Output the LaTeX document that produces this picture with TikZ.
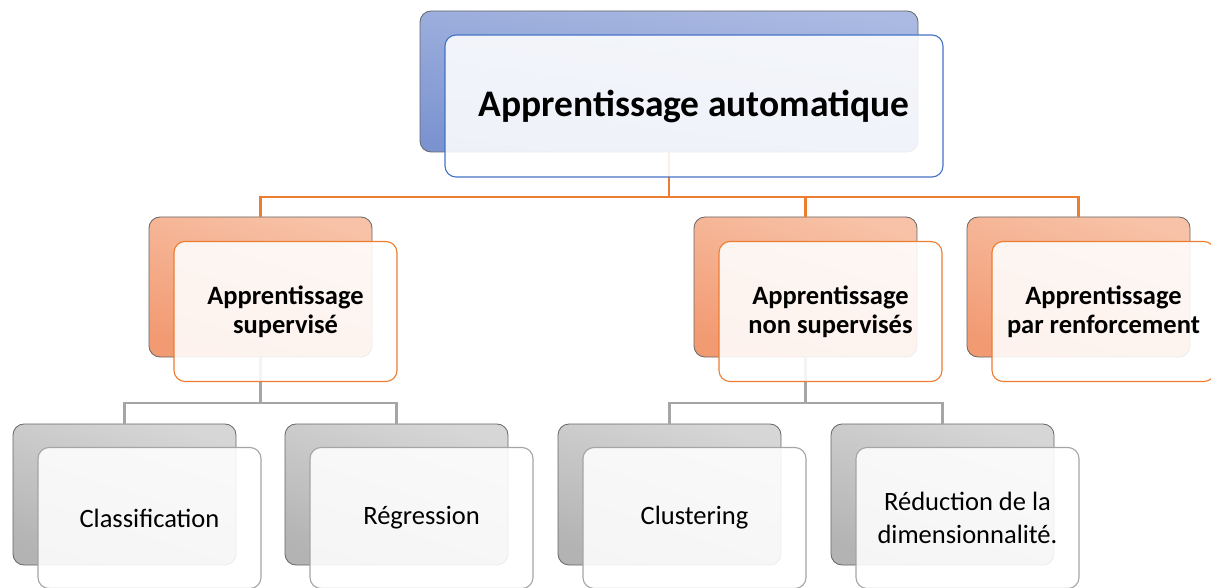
\documentclass[tikz,border=0pt]{standalone}
\usepackage{fontspec}
\setmainfont{Carlito}
\definecolor{blueTop}{HTML}{ABBAE2}
\definecolor{blueBot}{HTML}{7B93D0}
\definecolor{blueEdge}{HTML}{4472C4}
\definecolor{orTop}{HTML}{F7C2A7}
\definecolor{orBot}{HTML}{F29A72}
\definecolor{orEdge}{HTML}{ED7D31}
\definecolor{grTop}{HTML}{D6D6D6}
\definecolor{grBot}{HTML}{B3B3B3}
\definecolor{grEdge}{HTML}{A5A5A5}
\definecolor{backEdge}{HTML}{666666}
\tikzset{
  backbox/.style={draw=backEdge, line width=0.8pt, rounded corners=11pt,
    inner sep=0pt, minimum width=223pt, minimum height=140pt},
  frontbox/.style={line width=1.1pt, rounded corners=11pt, fill=white,
    fill opacity=0.88, text opacity=1, inner sep=0pt,
    minimum width=223pt, minimum height=140pt, align=center, text=black},
  bluebk/.style={backbox, top color=blueTop, bottom color=blueBot, shading angle=-8,
    minimum width=498pt, minimum height=141pt},
  bluefr/.style={frontbox, draw=blueEdge, minimum width=498pt, minimum height=142pt,
    font=\fontsize{37.5}{44}\selectfont\bfseries},
  orbk/.style={backbox, top color=orTop, bottom color=orBot, shading angle=-18},
  orfr/.style={frontbox, draw=orEdge, font=\fontsize{26.5}{29}\selectfont\bfseries},
  grbk/.style={backbox, top color=grTop, bottom color=grBot, shading angle=-18, minimum height=141pt},
  grfr/.style={frontbox, draw=grEdge, minimum height=141pt, font=\fontsize{26.5}{33}\selectfont},
  oline/.style={draw=orEdge, line width=2.2pt},
  gline/.style={draw=grEdge, line width=2.5pt},
}
\begin{document}
\begin{tikzpicture}[x=1pt, y=-1pt]
\useasboundingbox (0,0) rectangle (1211,588);

% bus levels of the two connector trees
\coordinate (busA) at (0,197);
\coordinate (busB) at (0,403);

% back (shaded) boxes
\node[bluebk] (topB) at (669,81.5) {};
\node[orbk] (supB) at (260.5,287) {};
\node[orbk] (nsB)  at (805.5,287) {};
\node[orbk] (rfB)  at (1078.5,287) {};
\node[grbk] (clB)  at (124.5,494.5) {};
\node[grbk] (reB)  at (396.5,494.5) {};
\node[grbk] (cuB)  at (669.5,494.5) {};
\node[grbk] (diB)  at (942.5,494.5) {};

% connectors
\draw[oline] (topB.south) -- (topB.south |- busA) -| (supB.north);
\draw[oline] (topB.south |- busA) -| (nsB.north);
\draw[oline] (topB.south |- busA) -| (rfB.north);
\draw[gline] (supB.south) -- (supB.south |- busB) -| (clB.north);
\draw[gline] (supB.south |- busB) -| (reB.north);
\draw[gline] (nsB.south) -- (nsB.south |- busB) -| (cuB.north);
\draw[gline] (nsB.south |- busB) -| (diB.north);

% front (text) boxes
\node[bluefr] (topF) at (694,106) {Apprentissage automatique};
\node[orfr] (supF) at (285.5,311.5) {Apprentissage\\supervisé};
\node[orfr] (nsF)  at (830.5,311.5) {Apprentissage\\non supervisés};
\node[orfr] (rfF)  at (1103.5,311.5) {Apprentissage\\par renforcement};
\node[grfr] (clF)  at (149.5,518) {Classification};
\node[grfr] (reF)  at (421.5,518) {Régression};
\node[grfr] (cuF)  at (694.5,518) {Clustering};
\node[grfr] (diF)  at (967.5,518) {Réduction de la\\dimensionnalité.};
\end{tikzpicture}
\end{document}
